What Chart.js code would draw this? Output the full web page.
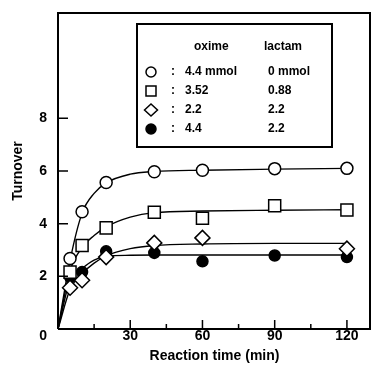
<!DOCTYPE html>
<html>
<head>
<meta charset="utf-8">
<script src="https://cdn.jsdelivr.net/npm/chart.js@4/dist/chart.umd.min.js"></script>
<style>
  body { margin: 0; background: #fff; }
  #wrap { width: 371px; height: 375px; }
</style>
</head>
<body>
<div id="wrap"><canvas id="mycanvas" width="371" height="375"></canvas></div>
<script>
// measured points (reaction time in min, turnover)
var times = [5, 10, 20, 40, 60, 90, 120];
var oxime44 = [2.68, 4.45, 5.56, 5.97, 6.03, 6.09, 6.10];
var oxime352 = [2.16, 3.17, 3.84, 4.43, 4.21, 4.68, 4.52];
var oxime22 = [1.57, 1.85, 2.73, 3.27, 3.46, null, 3.05];
var oxime44lac = [1.97, 2.16, 2.95, 2.89, 2.57, 2.79, 2.73];

// fitted curves
var fitTimes = [0, 5, 10, 15, 20, 30, 40, 60, 90, 120];
var fit44 = [0, 2.6, 4.4, 5.15, 5.55, 5.88, 5.98, 6.03, 6.07, 6.10];
var fit352 = [0, 2.2, 3.1, 3.55, 3.88, 4.25, 4.42, 4.48, 4.51, 4.53];
var fit22 = [0, 1.5, 2.1, 2.5, 2.78, 3.05, 3.17, 3.23, 3.25, 3.25];
var fit44lac = [0, 1.85, 2.3, 2.62, 2.76, 2.80, 2.81, 2.81, 2.81, 2.81];

var xTicks = [0, 15, 30, 45, 60, 75, 90, 105, 120];
var yTicks = [0, 2, 4, 6, 8];

var legendHead = ['oxime', 'lactam'];
var legendOxime = ['4.4 mmol', '3.52', '2.2', '4.4'];
var legendLactam = ['0 mmol', '0.88', '2.2', '2.2'];
var legendMarks = ['openCircle', 'openRect', 'openDiamond', 'filledCircle'];

var FONT = '"Liberation Sans", Arial, sans-serif';

function pts(xs, ys) {
	var out = [];
	for (var i in xs) {
		if (ys[i] !== null) out.push({x: xs[i], y: ys[i]});
	}
	return out;
}

function curve(ys) {
	return {
		data: pts(fitTimes, ys),
		showLine: true,
		borderColor: '#000',
		borderWidth: 1.4,
		pointRadius: 0,
		cubicInterpolationMode: 'monotone',
		fill: false,
		order: 2
	};
}

function marks(ys, style, radius, filled) {
	return {
		data: pts(times, ys),
		showLine: false,
		pointStyle: style,
		pointRadius: radius,
		pointBorderWidth: 1.5,
		pointBorderColor: '#000',
		pointBackgroundColor: filled ? '#000' : '#fff',
		order: 1
	};
}

function noPad(scale) {
	scale.paddingTop = 0;
	scale.paddingBottom = 0;
	scale.paddingLeft = 0;
	scale.paddingRight = 0;
}

function drawMark(ctx, kind, x, y) {
	ctx.save();
	ctx.lineWidth = 1.5;
	ctx.strokeStyle = '#000';
	ctx.fillStyle = '#fff';
	ctx.beginPath();
	if (kind === 'openCircle') {
		ctx.arc(x, y, 5, 0, Math.PI * 2);
		ctx.fill(); ctx.stroke();
	} else if (kind === 'filledCircle') {
		ctx.fillStyle = '#000';
		ctx.arc(x, y, 5, 0, Math.PI * 2);
		ctx.fill(); ctx.stroke();
	} else if (kind === 'openRect') {
		ctx.rect(x - 5, y - 5, 10, 10);
		ctx.fill(); ctx.stroke();
	} else {
		ctx.moveTo(x - 6.5, y);
		ctx.lineTo(x, y - 6);
		ctx.lineTo(x + 6.5, y);
		ctx.lineTo(x, y + 6);
		ctx.closePath();
		ctx.fill(); ctx.stroke();
	}
	ctx.restore();
}

var framePlugin = {
	id: 'frame',
	afterDraw: function(chart) {
		var ctx = chart.ctx;
		var a = chart.chartArea;
		var xs = chart.scales.x, ys = chart.scales.y;
		ctx.save();
		ctx.strokeStyle = '#000';
		ctx.lineWidth = 2;
		ctx.beginPath();
		ctx.moveTo(a.left, a.bottom);
		ctx.lineTo(a.left, a.top);
		ctx.lineTo(a.right, a.top);
		ctx.moveTo(a.left, a.bottom);
		ctx.lineTo(a.right, a.bottom);
		ctx.moveTo(a.right - 1, a.top);
		ctx.lineTo(a.right - 1, a.bottom);
		ctx.stroke();

		// inward tick marks
		ctx.lineWidth = 1.5;
		ctx.beginPath();
		xTicks.forEach(function(v) {
			if (v === 0) return;
			var px = xs.getPixelForValue(v);
			var len = (v % 30 === 0) ? 9 : 5;
			ctx.moveTo(px, a.bottom);
			ctx.lineTo(px, a.bottom - len);
		});
		yTicks.forEach(function(v) {
			if (v === 0) return;
			var py = ys.getPixelForValue(v);
			ctx.moveTo(a.left, py);
			ctx.lineTo(a.left + 10, py);
		});
		ctx.stroke();

		// corner zero
		ctx.fillStyle = '#000';
		ctx.font = 'bold 14px ' + FONT;
		ctx.textAlign = 'right';
		ctx.textBaseline = 'middle';
		ctx.fillText('0', a.left - 11, a.bottom + 7);

		// legend table
		var L = 137, T = 24, R = 332, B = 147;
		ctx.lineWidth = 2;
		ctx.fillStyle = '#fff';
		ctx.fillRect(L, T, R - L, B - T);
		ctx.strokeRect(L, T, R - L, B - T);
		ctx.fillStyle = '#000';
		ctx.font = 'bold 12px ' + FONT;
		ctx.textAlign = 'left';
		ctx.fillText(legendHead[0], 194, 47);
		ctx.fillText(legendHead[1], 264, 47);
		var rowY = [72, 91, 110, 129];
		for (var i in rowY) {
			drawMark(ctx, legendMarks[i], 151, rowY[i]);
			ctx.fillStyle = '#000';
			ctx.fillText(':', 171, rowY[i]);
			ctx.fillText(legendOxime[i], 185, rowY[i]);
			ctx.fillText(legendLactam[i], 268, rowY[i]);
		}
		ctx.restore();
	}
};

var ctx = document.getElementById('mycanvas');

var chart = new Chart(ctx, {
	type: 'scatter',
	data: {
		datasets: [
			curve(fit44),
			curve(fit352),
			curve(fit22),
			curve(fit44lac),
			marks(oxime44, 'circle', 6, false),
			marks(oxime352, 'rect', 8.5, false),
			marks(oxime22, 'rectRot', 7.5, false),
			marks(oxime44lac, 'circle', 5.5, true)
		]
	},
	options: {
		responsive: false,
		animation: false,
		layout: { autoPadding: false, padding: { top: 13, right: 0, left: 0, bottom: 0 } },
		plugins: {
			legend: { display: false },
			tooltip: { enabled: false }
		},
		scales: {
			x: {
				type: 'linear',
				min: 0,
				max: 130,
				afterBuildTicks: function(scale) {
					scale.ticks = xTicks.map(function(v) { return {value: v}; });
				},
				afterFit: function(scale) { scale.height = 46; noPad(scale); },
				grid: { display: false, drawTicks: false },
				border: { display: false },
				ticks: {
					padding: 0,
					color: '#000',
					font: { family: FONT, size: 14, weight: 'bold', lineHeight: 1 },
					maxRotation: 0,
					autoSkip: false,
					callback: function(v) { return (v > 0 && v % 30 === 0) ? v : ''; }
				},
				title: {
					display: true,
					text: 'Reaction time (min)',
					color: '#000',
					font: { family: FONT, size: 14, weight: 'bold' },
					padding: { top: 0, bottom: 10 }
				}
			},
			y: {
				min: 0,
				max: 12,
				afterBuildTicks: function(scale) {
					scale.ticks = yTicks.map(function(v) { return {value: v}; });
				},
				afterFit: function(scale) { scale.width = 58; noPad(scale); },
				grid: { display: false, drawTicks: false },
				border: { display: false },
				ticks: {
					padding: 11,
					color: '#000',
					font: { family: FONT, size: 14, weight: 'bold' },
					callback: function(v) { return v === 0 ? '' : v; }
				},
				title: {
					display: true,
					text: 'Turnover',
					color: '#000',
					font: { family: FONT, size: 14, weight: 'bold' },
					padding: { top: 10, bottom: 0 }
				}
			}
		}
	},
	plugins: [framePlugin]
});
</script>
</body>
</html>
